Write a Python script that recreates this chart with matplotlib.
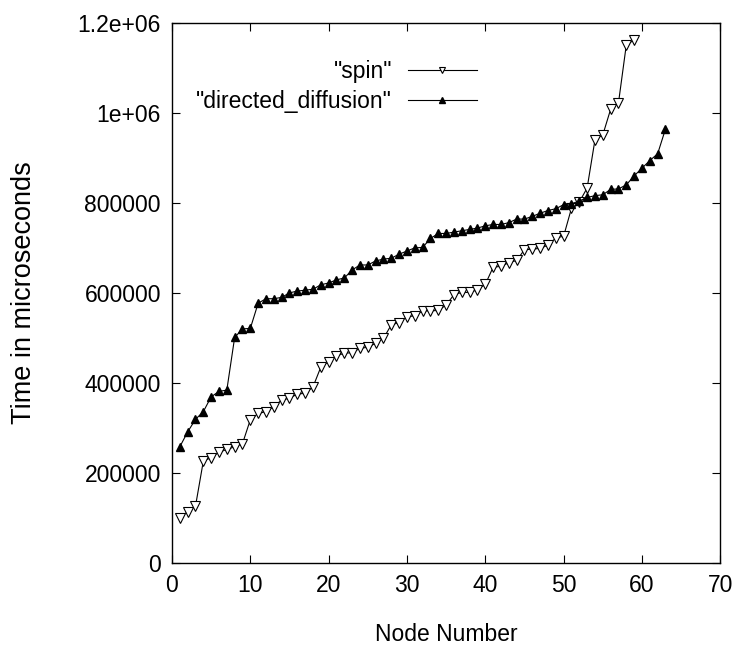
import matplotlib
matplotlib.use('Agg')
import matplotlib.pyplot as plt

plt.rcParams['font.family'] = ['Liberation Sans', 'DejaVu Sans']

#==============================================

spin_nodes = list(range(1, 60))
spin_time = [100000, 114000, 126000, 226000, 234000, 246000, 252000, 258000, 265000, 318000,
             332000, 336000, 347000, 362000, 366000, 375000, 377000, 391000, 435000, 447000,
             460000, 466000, 467000, 477000, 479000, 488000, 499000, 529000, 534000, 547000,
             549000, 560000, 560000, 561000, 573000, 596000, 601000, 601000, 607000, 619000,
             657000, 659000, 667000, 672000, 696000, 697000, 699000, 706000, 722000, 726000,
             788000, 802000, 833000, 940000, 951000, 1008000, 1022000, 1151000, 1162000]

dd_nodes = list(range(1, 64))
dd_time = [258000, 291000, 319000, 336000, 369000, 381000, 384000, 501000, 520000, 521000,
           577000, 587000, 587000, 590000, 600000, 604000, 606000, 608000, 618000, 622000,
           629000, 633000, 651000, 662000, 662000, 671000, 675000, 677000, 686000, 693000,
           700000, 701000, 721000, 732000, 732000, 735000, 738000, 741000, 744000, 749000,
           752000, 752000, 756000, 764000, 764000, 770000, 777000, 783000, 787000, 796000,
           798000, 804000, 812000, 816000, 818000, 830000, 831000, 840000, 860000, 877000,
           894000, 909000, 964000]

#==============================================

fig = plt.figure(figsize=(7.35, 6.53), dpi=100)
ax = fig.add_axes([0.234, 0.138, 0.746, 0.827])

ax.plot(spin_nodes, spin_time, color='black', linewidth=0.8, marker='v', markersize=6.5,
        markerfacecolor='white', markeredgecolor='black', markeredgewidth=0.8, label='"spin"')
ax.plot(dd_nodes, dd_time, color='black', linewidth=0.8, marker='^', markersize=5.5,
        markerfacecolor='black', markeredgecolor='black', label='"directed_diffusion"')

ax.set_xlim(0, 70)
ax.set_ylim(0, 1200000)
ax.set_xticks(range(0, 71, 10))
ax.set_yticks(range(0, 1200001, 200000))
ax.set_yticklabels(['0', '200000', '400000', '600000', '800000', '1e+06', '1.2e+06'])
ax.tick_params(direction='in', length=6, width=0.8, top=True, right=True,
               labelsize=16.5, pad=8)
for s in ax.spines.values():
    s.set_linewidth(1.0)

ax.set_xlabel('Node Number', fontsize=16.5)
ax.xaxis.set_label_coords(0.5, -0.112)
ax.set_ylabel('Time in microseconds', fontsize=19.5)
ax.yaxis.set_label_coords(-0.247, 0.5)

ax.legend(loc='upper right', bbox_to_anchor=(0.585, 0.96), frameon=False,
          markerfirst=False, fontsize=16.5, handlelength=3.0, handletextpad=0.7,
          labelspacing=0.3, borderpad=0.2, markerscale=0.75)

plt.savefig('out.png', dpi=100)
